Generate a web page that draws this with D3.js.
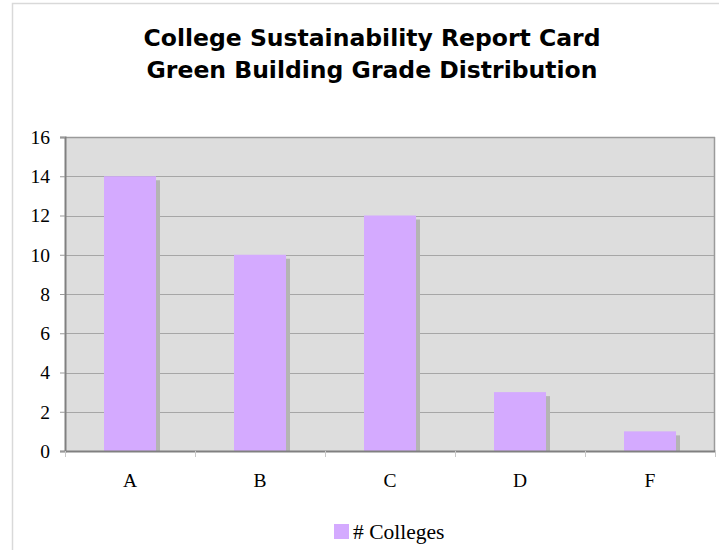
<!DOCTYPE html>
<html>
<head>
<meta charset="utf-8">
<script src="https://cdn.jsdelivr.net/npm/d3@7"></script>
<style>
  html, body { margin: 0; padding: 0; background: #fff; }
  svg { display: block; }
</style>
</head>
<body>
<svg id="chart" width="719" height="550"></svg>
<script>
// Grade distribution data
const grades = ["A", "B", "C", "D", "F"];
const colleges = [14, 10, 12, 3, 1];
const yTicks = [0, 2, 4, 6, 8, 10, 12, 14, 16];
const titleLines = ["College Sustainability Report Card", "Green Building Grade Distribution"];
const seriesName = "# Colleges";

const svg = d3.select("#chart");
const W = 719, H = 550;
const plot = { left: 65, top: 137, right: 715, bottom: 451 };
const serif = "Liberation Serif, DejaVu Serif, serif";

// outer chart frame
svg.append("rect")
  .attr("x", 12.5).attr("y", 3.5)
  .attr("width", W + 20).attr("height", H + 20)
  .attr("fill", "#fff").attr("stroke", "#d9d9d9").attr("stroke-width", 1.5);

// title
svg.append("g").selectAll("text").data(titleLines).join("text")
  .attr("x", 372).attr("y", (d, i) => 46 + i * 32)
  .attr("text-anchor", "middle")
  .attr("font-family", "DejaVu Sans, Verdana, sans-serif")
  .attr("font-weight", "bold").attr("font-size", 23.5)
  .attr("fill", "#000")
  .text(d => d);

const x = d3.scaleBand().domain(grades).range([plot.left, plot.right]).paddingInner(0).paddingOuter(0);
const y = d3.scaleLinear().domain([0, 16]).range([plot.bottom, plot.top]);

// plot background
svg.append("rect")
  .attr("x", plot.left).attr("y", plot.top)
  .attr("width", plot.right - plot.left).attr("height", plot.bottom - plot.top)
  .attr("fill", "#dddddd");

// gridlines
svg.append("g").selectAll("line").data(yTicks.filter(t => t > 0 && t < 16)).join("line")
  .attr("x1", plot.left).attr("x2", plot.right)
  .attr("y1", d => Math.round(y(d)) + 0.5).attr("y2", d => Math.round(y(d)) + 0.5)
  .attr("stroke", "#a6a6a6").attr("stroke-width", 1);

const barW = 52;
const bars = svg.append("g");
// drop shadows
bars.selectAll("rect.shadow").data(grades).join("rect")
  .attr("class", "shadow")
  .attr("x", (d, i) => x(d) + x.bandwidth() / 2 - barW / 2 + 4)
  .attr("y", (d, i) => y(colleges[i]) + 4)
  .attr("width", barW)
  .attr("height", (d, i) => y(0) - y(colleges[i]) - 4)
  .attr("fill", "#b4b4b4");
// bars
bars.selectAll("rect.bar").data(grades).join("rect")
  .attr("class", "bar")
  .attr("x", (d, i) => x(d) + x.bandwidth() / 2 - barW / 2)
  .attr("y", (d, i) => y(colleges[i]))
  .attr("width", barW)
  .attr("height", (d, i) => y(0) - y(colleges[i]))
  .attr("fill", "#d4aaff");

// plot border: top/right lighter, left/bottom darker
svg.append("line").attr("x1", plot.left).attr("x2", plot.right).attr("y1", plot.top + 0.5).attr("y2", plot.top + 0.5)
  .attr("stroke", "#9a9a9a").attr("stroke-width", 1.5);
svg.append("line").attr("x1", plot.right - 0.5).attr("x2", plot.right - 0.5).attr("y1", plot.top).attr("y2", plot.bottom)
  .attr("stroke", "#9a9a9a").attr("stroke-width", 1.5);

// y axis
const yAxis = d3.axisLeft(y).tickValues(yTicks).tickSize(5).tickPadding(10);
const gy = svg.append("g").attr("transform", `translate(${plot.left},0)`).call(yAxis);
gy.select(".domain").attr("stroke", "#808080").attr("stroke-width", 2);
gy.selectAll(".tick line").attr("stroke", "#999");
gy.selectAll(".tick text")
  .attr("font-family", serif)
  .attr("font-size", 19.5).attr("fill", "#000");

// x axis
const xAxis = d3.axisBottom(x).tickSize(0).tickPadding(22);
const gx = svg.append("g").attr("transform", `translate(0,${plot.bottom})`).call(xAxis);
gx.select(".domain").attr("stroke", "#808080").attr("stroke-width", 2);
gx.selectAll(".tick text")
  .attr("font-family", serif)
  .attr("font-size", 19.5).attr("fill", "#000");
// category separators below axis
gx.append("g").selectAll("line").data(grades.slice(1).concat(["end"])).join("line")
  .attr("x1", (d, i) => Math.round(plot.left + (i + 1) * x.bandwidth()) + 0.5)
  .attr("x2", (d, i) => Math.round(plot.left + (i + 1) * x.bandwidth()) + 0.5)
  .attr("y1", 0).attr("y2", 6)
  .attr("stroke", "#c8c8c8");
gx.append("line").attr("x1", plot.left + 0.5).attr("x2", plot.left + 0.5).attr("y1", 0).attr("y2", 6).attr("stroke", "#c8c8c8");

// legend
const lg = svg.append("g").attr("transform", "translate(334,524)");
lg.append("rect").attr("width", 15).attr("height", 15).attr("fill", "#d4aaff");
lg.append("text").attr("x", 19).attr("y", 14.5)
  .attr("font-family", serif)
  .attr("font-size", 21.5).attr("fill", "#000")
  .text(seriesName);
</script>
</body>
</html>
